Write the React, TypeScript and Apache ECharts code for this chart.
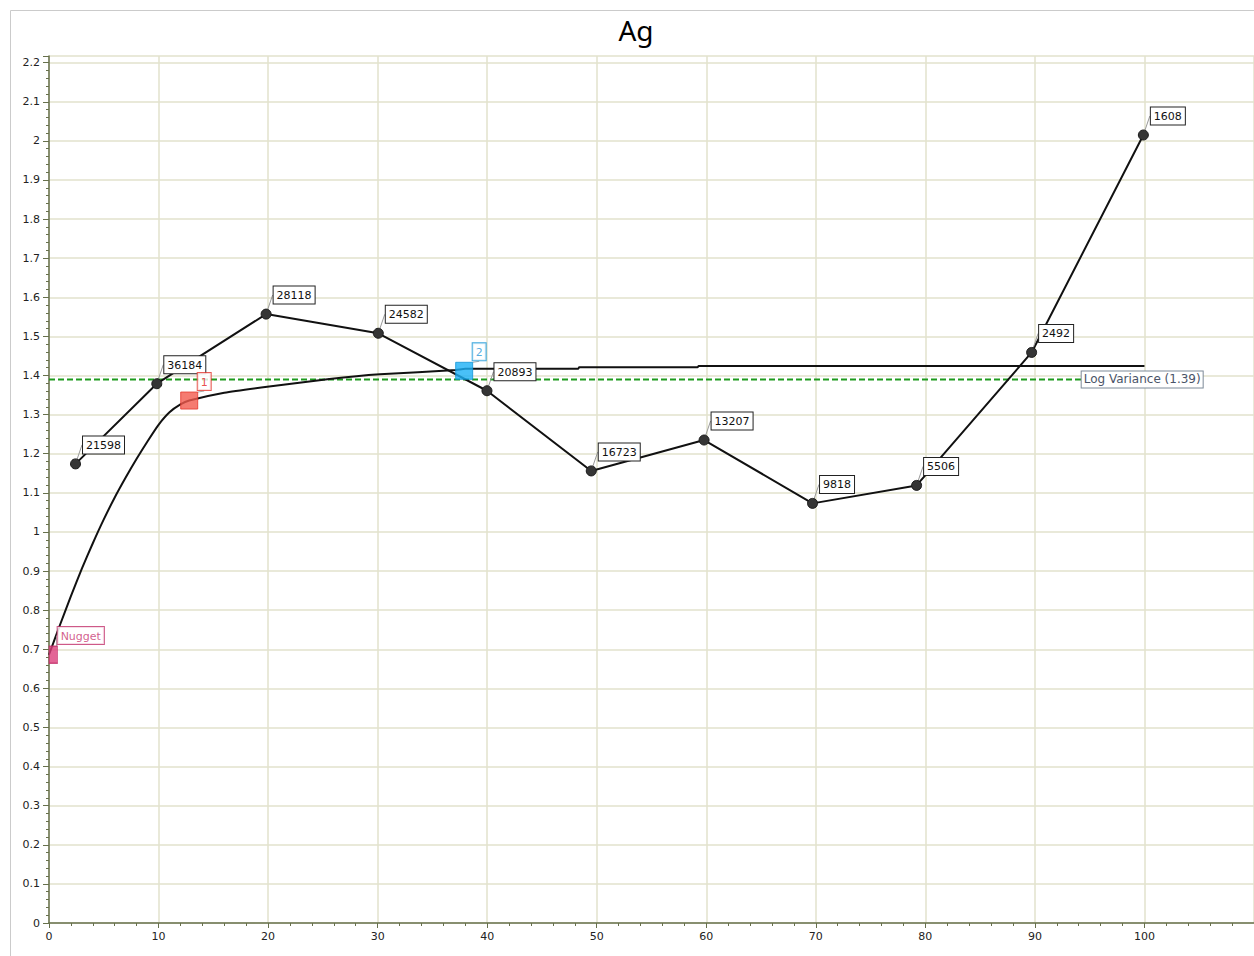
import React, { useEffect, useRef } from 'react';
import * as echarts from 'echarts';

// Experimental semivariogram: lag distance, gamma and number of pairs per lag
const lagDistance = [2.42, 9.84, 19.82, 30.06, 39.98, 49.5, 59.8, 69.7, 79.2, 89.7, 99.9];
const experimentalGamma = [1.174, 1.379, 1.557, 1.508, 1.361, 1.156, 1.235, 1.073, 1.119, 1.459, 2.015];
const pairCounts = [21598, 36184, 28118, 24582, 20893, 16723, 13207, 9818, 5506, 2492, 1608];

// Fitted model curve (lag, gamma)
const modelLag = [0, 1.0, 2.0, 3.0, 4.0, 5.0, 6.0, 7.0, 8.0, 9.0, 10.0, 11.0, 12.0, 12.8, 16.0, 20.1, 25.6, 30.2, 37.15, 38.0, 48.3, 48.4, 59.2, 59.3, 100];
const modelGamma = [0.686, 0.762, 0.836, 0.906, 0.971, 1.032, 1.088, 1.139, 1.187, 1.232, 1.274, 1.306, 1.326, 1.336, 1.356, 1.372, 1.391, 1.403, 1.414, 1.417, 1.417, 1.421, 1.421, 1.424, 1.424];

// Model structures: nugget and nested ranges
const structureNames = ['Nugget', '1', '2'];
const structureLag = [0, 12.8, 37.9];
const structureGamma = [0.686, 1.336, 1.412];
const structureFill = ['#dc3f7c', '#f25a4e', '#1cb0f6'];
const structureBorder = ['#c2306a', '#e3362c', '#1094d6'];
const structureText = ['#c8366f', '#e52222', '#2a98d8'];

// Log variance reference line
const logVariance = 1.39;
const logVarianceEnd = 94.27;

const AXIS = '#67704c';
const GRID = '#e2e2cd';
const FONT = 'DejaVu Sans';

export default function App() {
  const ref = useRef<HTMLDivElement>(null);

  useEffect(() => {
    if (!ref.current) return;
    const chart = echarts.init(ref.current, undefined, { renderer: 'svg' });

    const boxLabel = (color: string, border: string, position: [number, number]) => ({
      show: true,
      position,
      align: 'left',
      verticalAlign: 'bottom',
      color,
      fontFamily: FONT,
      fontSize: 11,
      lineHeight: 14,
      backgroundColor: '#ffffff',
      borderColor: border,
      borderWidth: 1,
      padding: [2, 3, 1, 3],
    });

    chart.setOption({
      animation: false,
      backgroundColor: '#ffffff',
      textStyle: { fontFamily: FONT },
      graphic: [
        {
          type: 'rect',
          silent: true,
          z: -10,
          shape: { x: 10.5, y: 10.5, width: 1400, height: 1100 },
          style: { fill: 'none', stroke: '#cbcbcb', lineWidth: 1 },
        },
        {
          type: 'text',
          x: 636,
          y: 30,
          style: {
            text: 'Ag',
            fontFamily: 'Noto Sans',
            fontSize: 28,
            fill: '#000000',
            textAlign: 'center',
            textVerticalAlign: 'middle',
          },
        },
      ],
      grid: { left: 49, right: -2, top: 56, bottom: 33, containLabel: false },
      xAxis: {
        type: 'value',
        min: 0,
        max: 110,
        interval: 10,
        axisLine: { show: true, onZero: false, lineStyle: { color: AXIS, width: 1.5 } },
        axisTick: { show: true, length: 5, lineStyle: { color: AXIS } },
        minorTick: { show: true, splitNumber: 5, length: 3, lineStyle: { color: AXIS } },
        axisLabel: {
          color: '#222222',
          fontFamily: FONT,
          fontSize: 11,
          margin: 8,
          showMaxLabel: false,
          formatter: (v: number) => String(Math.round(v)),
        },
        splitLine: { show: true, lineStyle: { color: GRID, width: 1.5 } },
      },
      yAxis: {
        type: 'value',
        min: 0,
        max: 2.217,
        interval: 0.1,
        axisLine: { show: true, onZero: false, lineStyle: { color: AXIS, width: 1.5 } },
        axisTick: { show: true, length: 6, lineStyle: { color: AXIS } },
        minorTick: { show: true, splitNumber: 5, length: 3, lineStyle: { color: AXIS } },
        axisLabel: {
          color: '#222222',
          fontFamily: FONT,
          fontSize: 11,
          margin: 9,
          showMaxLabel: false,
          formatter: (v: number) => (v > 2.2001 ? '' : String(Math.round(v * 10) / 10)),
        },
        splitLine: { show: true, lineStyle: { color: GRID, width: 1.5 } },
      },
      series: [
        {
          name: 'Log Variance',
          type: 'line',
          data: [
            [0, logVariance],
            [logVarianceEnd, logVariance],
          ],
          symbol: 'none',
          z: 1,
          lineStyle: { color: '#1d9a1d', width: 2, type: [6, 3] },
          endLabel: {
            show: true,
            distance: 0,
            formatter: `Log Variance (${logVariance})`,
            color: '#4a5468',
            fontFamily: FONT,
            fontSize: 12,
            lineHeight: 14,
            backgroundColor: '#ffffff',
            borderColor: '#7d8a98',
            borderWidth: 1,
            padding: [1, 2, 1, 2],
          },
        },
        {
          name: 'Model',
          type: 'line',
          data: modelLag.map((x, i) => [x, modelGamma[i]]),
          symbol: 'none',
          smooth: 0.2,
          z: 2,
          lineStyle: { color: '#111111', width: 2 },
        },
        {
          name: 'Experimental',
          type: 'line',
          data: lagDistance.map((x, i) => [x, experimentalGamma[i]]),
          symbol: 'circle',
          symbolSize: 10,
          z: 3,
          lineStyle: { color: '#111111', width: 2 },
          itemStyle: { color: '#353535', borderColor: '#1a1a1a', borderWidth: 1 },
          label: {
            ...boxLabel('#111111', '#222222', [13, -5]),
            formatter: (p: any) => String(pairCounts[p.dataIndex]),
          },
          labelLine: { show: true, lineStyle: { color: '#999999', width: 1 } },
        },
        {
          name: 'Structures',
          type: 'scatter',
          symbol: 'rect',
          z: 4,
          data: structureNames.map((name, i) => ({
            name,
            value: [structureLag[i], structureGamma[i]],
            // the nugget sits on the y axis, so only its right half is shown
            symbolSize: i === 0 ? [8.5, 17] : 17,
            symbolOffset: i === 0 ? [4.25, 0] : [0, 0],
            itemStyle: { color: structureFill[i], borderColor: structureBorder[i], borderWidth: 1 },
            label: { ...boxLabel(structureText[i], structureBorder[i], i === 0 ? [9, -1.5] : [17.5, -1.5]) },
          })),
          label: { show: true, formatter: (p: any) => p.name },
          labelLine: { show: true, lineStyle: { color: '#aaaaaa', width: 1 } },
        },
      ],
    });

    return () => chart.dispose();
  }, []);

  return (
    <div
      ref={ref}
      style={{ position: 'absolute', left: 0, top: 0, width: 1254, height: 956, background: '#fff' }}
    />
  );
}
